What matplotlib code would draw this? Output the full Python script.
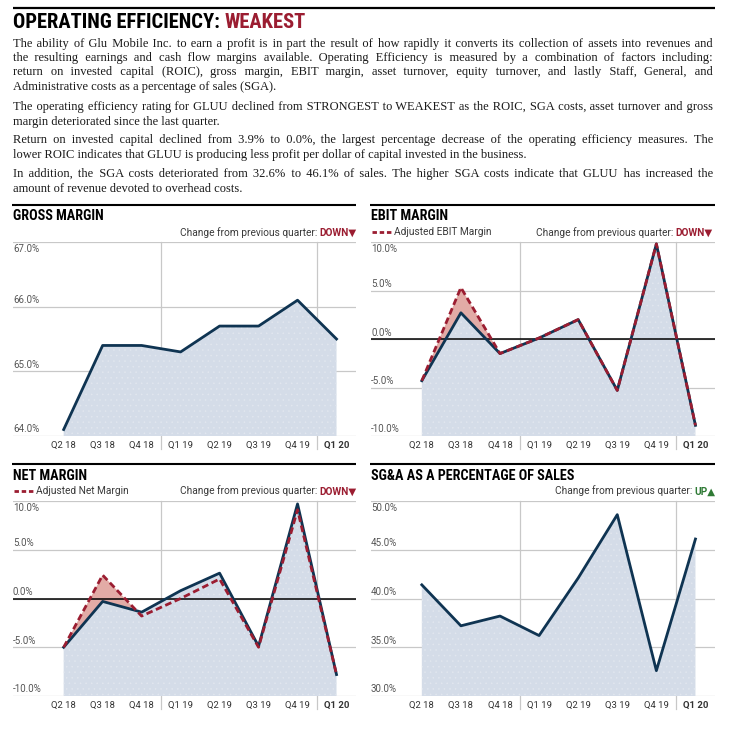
import numpy as np
import matplotlib
matplotlib.use('Agg')
import matplotlib.pyplot as plt
import matplotlib.transforms as mtransforms
from matplotlib.lines import Line2D
from matplotlib import font_manager as fm

# ---- data -------------------------------------------------------------
quarters = ['Q2 18', 'Q3 18', 'Q4 18', 'Q1 19', 'Q2 19', 'Q3 19', 'Q4 19', 'Q1 20']

gross_margin = [64.1, 65.4, 65.4, 65.3, 65.7, 65.7, 66.1, 65.5]

ebit_margin = [-4.3, 2.7, -1.5, 0.1, 2.0, -5.3, 9.8, -8.9]
ebit_adjusted = [-4.3, 5.3, -1.5, 0.1, 2.0, -5.3, 9.8, -8.9]

net_margin = [-5.0, -0.3, -1.4, 0.8, 2.6, -4.9, 9.7, -7.8]
net_adjusted = [-5.0, 2.4, -1.8, 0.0, 2.0, -5.0, 9.1, -7.8]

sga_pct = [41.4, 37.2, 38.2, 36.2, 42.1, 48.6, 32.6, 46.1]

gross_ticks = [64.0, 65.0, 66.0, 67.0]
margin_ticks = [-10.0, -5.0, 0.0, 5.0, 10.0]
sga_ticks = [30.0, 35.0, 40.0, 45.0, 50.0]

title_main = 'OPERATING EFFICIENCY: '
title_rating = 'WEAKEST'

paragraphs = [
    ['The ability of Glu Mobile Inc. to earn a profit is in part the result of how rapidly it converts its collection of assets into revenues and',
     'the resulting earnings and cash flow margins available. Operating Efficiency is measured by a combination of factors including:',
     'return on invested capital (ROIC), gross margin, EBIT margin, asset turnover, equity turnover, and lastly Staff, General, and',
     'Administrative costs as a percentage of sales (SGA).'],
    ['The operating efficiency rating for GLUU declined from STRONGEST to WEAKEST as the ROIC, SGA costs, asset turnover and gross',
     'margin deteriorated since the last quarter.'],
    ['Return on invested capital declined from 3.9% to 0.0%, the largest percentage decrease of the operating efficiency measures. The',
     'lower ROIC indicates that GLUU is producing less profit per dollar of capital invested in the business.'],
    ['In addition, the SGA costs deteriorated from 32.6% to 46.1% of sales. The higher SGA costs indicate that GLUU has increased the',
     'amount of revenue devoted to overhead costs.'],
]
para_baselines = [[46.5, 61, 75.5, 90], [110, 124.5], [143.5, 158], [177, 191.5]]

# ---- style ------------------------------------------------------------
NAVY = '#0f3452'
RED = '#9b1d31'
GREEN = '#2f7a35'
FILL = '#d4dce8'
PINK = '#e2aba6'
GRID = '#c8c8c8'

names = {f.name for f in fm.fontManager.ttflist}
COND = 'Roboto'
for cand in ['Liberation Sans Narrow', 'Roboto Condensed', 'DejaVu Sans Condensed', 'Open Sans Condensed']:
    if cand in names:
        COND = cand
        break
SANS = ['Roboto', 'DejaVu Sans']
SERIF = ['Liberation Serif', 'DejaVu Serif']
plt.rcParams['font.family'] = [COND, 'DejaVu Sans']
plt.rcParams['hatch.linewidth'] = 0.35

W, H = 738, 736
fig = plt.figure(figsize=(W / 100, H / 100), dpi=100)
fig.patch.set_facecolor('white')
renderer = fig.canvas.get_renderer()


def fx(px):
    return px / W


def fy(py):
    return 1 - py / H


def width_of(t):
    return t.get_window_extent(renderer).width


def measure(s, size=10, **kw):
    t = fig.text(0, 0, s, fontsize=size, **kw)
    w = width_of(t)
    t.remove()
    return w


def fit_size(s, target, size=10, **kw):
    return size * target / measure(s, size, **kw)


def hrule(x0, x1, y, lw=1.5):
    fig.add_artist(Line2D([fx(x0), fx(x1)], [fy(y), fy(y)], transform=fig.transFigure,
                          color='black', lw=lw, solid_capstyle='butt'))


# ---- header -----------------------------------------------------------
hrule(13, 715, 8, lw=1.6)
TW = 900
ts = fit_size(title_main + title_rating, 292, weight=TW)
t1 = fig.text(fx(13), fy(28), title_main.strip(), fontsize=ts, weight=TW, va='baseline')
space_w = measure('A A', ts, weight=TW) - measure('AA', ts, weight=TW)
fig.text(fx(13 + width_of(t1) + space_w), fy(28), title_rating, fontsize=ts, weight=TW,
         color=RED, va='baseline')

# justified body text: one Text per line, word gaps widened with hair spaces
X0, X1 = 13, 713
full_lines = [ln for p in paragraphs for ln in p[:-1]]
widest = max(measure(ln, 10, family=SERIF) for ln in full_lines)
body_size = 10 * (X1 - X0) / widest * 0.975
BODY = dict(family=SERIF, fontsize=body_size, color='#1a1a1a', va='baseline')
HAIR = '\u200a'
hair_w = (measure('a' + HAIR * 40 + 'a', body_size, family=SERIF)
          - measure('aa', body_size, family=SERIF)) / 40

for lines, ys in zip(paragraphs, para_baselines):
    for k, (line, y) in enumerate(zip(lines, ys)):
        if k == len(lines) - 1 or hair_w <= 0:
            fig.text(fx(X0), fy(y), line, **BODY)
            continue
        words = line.split(' ')
        extra = (X1 - X0) - measure(line, body_size, family=SERIF)
        n_hair = int(round(extra / hair_w))
        gaps = len(words) - 1
        out = words[0]
        done = 0
        for i, w in enumerate(words[1:], start=1):
            target = int(round(n_hair * i / gaps))
            out += ' ' + HAIR * (target - done) + w
            done = target
        fig.text(fx(X0), fy(y), out, **BODY)

# ---- panels -----------------------------------------------------------
head_size = fit_size('SG&A AS A PERCENTAGE OF SALES', 203, weight='bold')
chg_size = fit_size('Change from previous quarter: DOWN\u25bc', 176, family=SANS)


def change_label(xr, y, word, color, arrow):
    t = fig.text(fx(xr), fy(y), word + arrow, fontsize=chg_size, weight='bold', color=color,
                 ha='right', va='baseline', family=SANS)
    w = width_of(t)
    fig.text(fx(xr - w - 2), fy(y), 'Change from previous quarter:', fontsize=chg_size,
             color='#3a3a3a', ha='right', va='baseline', family=SANS)


def panel(l, t, r, b, vals, ticks, title, word, color, arrow, adj=None, legend=None, zero=False):
    ax = fig.add_axes([fx(l), fy(b), (r - l) / W, (b - t) / H])
    ax.axis('off')
    x = np.arange(len(quarters))
    lo, hi = ticks[0], ticks[-1]
    ax.set_xlim(-1.3, 7.5)
    ax.set_ylim(lo, hi)
    for v in ticks:
        ax.axhline(v, color=GRID, lw=0.9, zorder=1)
    ax.fill_between(x, vals, lo, facecolor=FILL, edgecolor='#e2e7ef', hatch='...', lw=0, zorder=2)
    if adj is not None:
        ax.fill_between(x, adj, vals, where=np.array(adj) >= np.array(vals), interpolate=True,
                        facecolor=PINK, lw=0, zorder=2.5)
    if zero:
        ax.axhline(0, color='black', lw=1.1, zorder=4)
    ax.plot(x, vals, color=NAVY, lw=2.0, zorder=5)
    if adj is not None:
        ax.plot(x, adj, color=RED, lw=2.0, ls=(0, (2.4, 1.3)), zorder=6)

    hgt = b - t
    sep_tr = mtransforms.blended_transform_factory(ax.transData, ax.transAxes)
    for sx in (2.5, 6.5):
        ax.plot([sx, sx], [1, -13 / hgt], transform=sep_tr, color=GRID, lw=0.9,
                clip_on=False, zorder=1)
    for i, q in enumerate(quarters):
        ax.text(i, -9 / hgt, q, transform=sep_tr, ha='center', va='center', fontsize=6.8,
                color='#333333', family=SANS,
                weight='bold' if i == len(quarters) - 1 else 'normal')

    lab_tr = mtransforms.blended_transform_factory(ax.transAxes, ax.transData)
    for v in ticks:
        if v == hi:
            tr = mtransforms.offset_copy(lab_tr, fig=fig, y=-2, units='dots')
            va = 'top'
        else:
            tr = mtransforms.offset_copy(lab_tr, fig=fig, y=1.5, units='dots')
            va = 'bottom'
        ax.text(0, v, '%.1f%%' % v, transform=tr, ha='left', va=va, fontsize=7.0,
                color='#555555', family=SANS)

    hrule(l - 1, r, t - 37, lw=1.5)
    fig.text(fx(l), fy(t - 21.5), title, fontsize=head_size, weight='bold', va='baseline')
    change_label(r if word == 'UP' else (r - 2 if l > 300 else r), t - 6.5, word, color, arrow)
    if legend:
        fig.add_artist(Line2D([fx(l + 1), fx(l + 20)], [fy(t - 10)] * 2, transform=fig.transFigure,
                              color=RED, lw=2.0, ls=(0, (1.6, 1.0))))
        fig.text(fx(l + 23), fy(t - 7), legend, fontsize=chg_size, color='#3a3a3a',
                 va='baseline', family=SANS)
    return ax


panel(13, 242, 356, 436, gross_margin, gross_ticks, 'GROSS MARGIN', 'DOWN', RED, '\u25bc')
panel(371, 242, 715, 436, ebit_margin, margin_ticks, 'EBIT MARGIN', 'DOWN', RED, '\u25bc',
      adj=ebit_adjusted, legend='Adjusted EBIT Margin', zero=True)
panel(13, 501, 356, 696, net_margin, margin_ticks, 'NET MARGIN', 'DOWN', RED, '\u25bc',
      adj=net_adjusted, legend='Adjusted Net Margin', zero=True)
panel(371, 501, 715, 696, sga_pct, sga_ticks, 'SG&A AS A PERCENTAGE OF SALES', 'UP', GREEN, '\u25b2')

fig.savefig('out.png', dpi=100, facecolor='white')
